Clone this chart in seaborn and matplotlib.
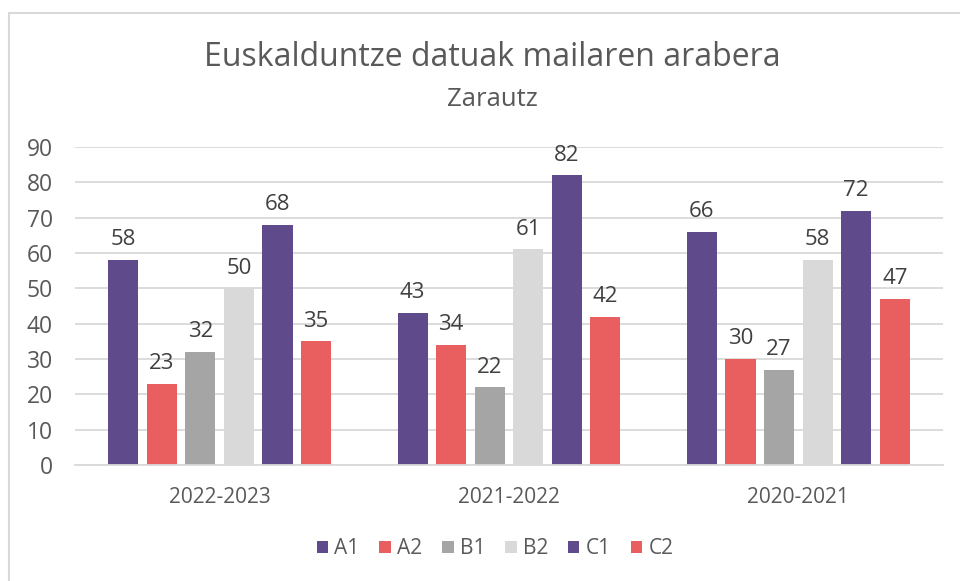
import matplotlib
matplotlib.use("Agg")
import matplotlib.pyplot as plt
import seaborn as sns
import pandas as pd
from matplotlib.patches import Rectangle

years = ["2022-2023", "2021-2022", "2020-2021"]
levels = ["A1", "A2", "B1", "B2", "C1", "C2"]
A1 = [58, 43, 66]
A2 = [23, 34, 30]
B1 = [32, 22, 27]
B2 = [50, 61, 58]
C1 = [68, 82, 72]
C2 = [35, 42, 47]
colors = ["#5F4B8B", "#E95E5E", "#A5A5A5", "#D9D9D9", "#5F4B8B", "#E95E5E"]

series = {"A1": A1, "A2": A2, "B1": B1, "B2": B2, "C1": C1, "C2": C2}
rows = []
for lv in levels:
    for y, v in zip(years, series[lv]):
        rows.append({"year": y, "level": lv, "value": v})
df = pd.DataFrame(rows)

sns.set_theme(style="white")
plt.rcParams["font.family"] = ["Open Sans", "DejaVu Sans"]
txt = "#595959"

fig = plt.figure(figsize=(9.6, 5.81), dpi=100)
ax = fig.add_axes([75 / 960, 116 / 581, 868 / 960, 318 / 581])

sns.barplot(data=df, x="year", y="value", hue="level", order=years, hue_order=levels,
            palette=colors, width=0.8, gap=0.22, saturation=1, ax=ax, legend=True,
            edgecolor="none")

ax.set_ylim(0, 90)
ax.set_yticks(range(0, 91, 10))
ax.yaxis.grid(True, color="#D9D9D9", linewidth=1.3)
ax.set_axisbelow(True)
for s in ["top", "right", "left"]:
    ax.spines[s].set_visible(False)
ax.spines["bottom"].set_color("#D9D9D9")
ax.spines["bottom"].set_linewidth(1.3)
ax.set_xlabel("")
ax.set_ylabel("")
ax.tick_params(axis="y", labelsize=16.5, colors=txt, length=0, pad=16)
ax.tick_params(axis="x", labelsize=15, colors=txt, length=0, pad=16)

for cont in ax.containers:
    ax.bar_label(cont, labels=[f"{int(v)}" for v in cont.datavalues], padding=7,
                 fontsize=16, color="#404040")

h, l = ax.get_legend_handles_labels()
ax.get_legend().remove()
fig.legend(h, l, loc="center", bbox_to_anchor=(495 / 960, 32 / 581), ncol=6, frameon=False,
           fontsize=15, handlelength=0.55, handleheight=0.55, handletextpad=0.3,
           columnspacing=0.95, labelcolor=txt)

fig.text(492 / 960, 1 - 58 / 581, "Euskalduntze datuak mailaren arabera", ha="center",
         va="center", fontsize=23, color=txt)
fig.text(492 / 960, 1 - 100 / 581, "Zarautz", ha="center", va="center", fontsize=18.5,
         color=txt)

fig.patches.append(Rectangle((9 / 960, -0.1), 1.2, 1 - 13 / 581 + 0.1, transform=fig.transFigure,
                             fill=False, edgecolor="#D9D9D9", linewidth=1.5))

fig.savefig("out.png", dpi=100)
